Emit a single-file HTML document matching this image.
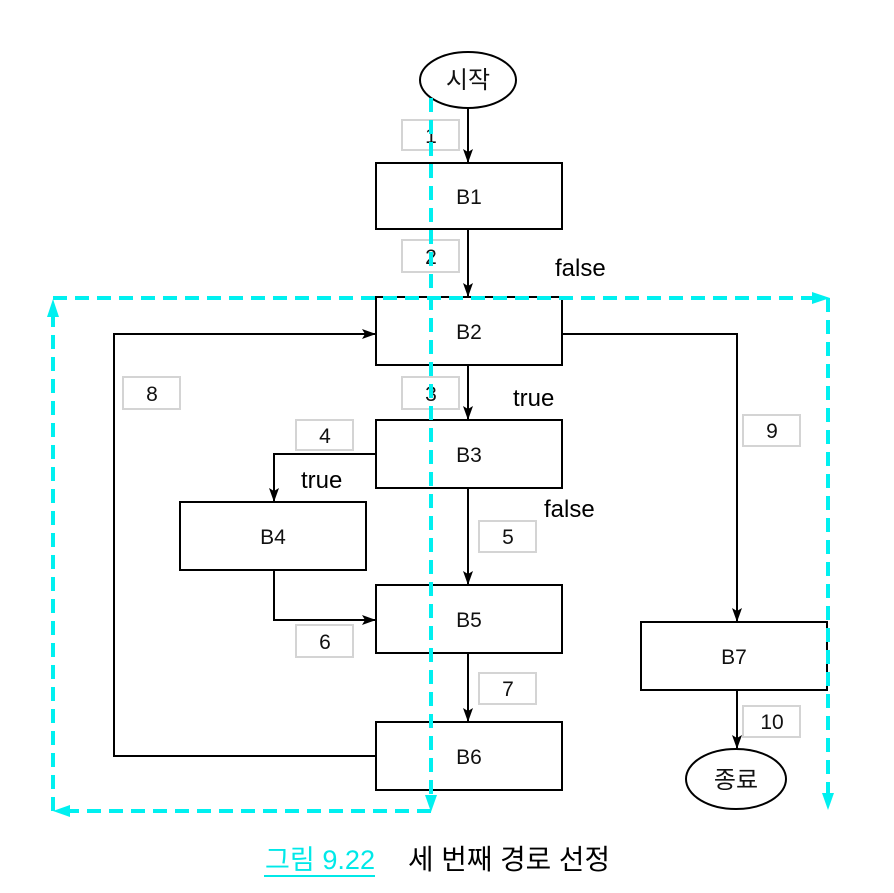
<!DOCTYPE html>
<html><head><meta charset="utf-8"><style>
html,body{margin:0;padding:0;background:#fff;}
svg{display:block;}
text{font-family:"Liberation Sans","Noto Sans CJK KR",sans-serif;}
</style></head><body>
<svg width="894" height="893" viewBox="0 0 894 893" xmlns="http://www.w3.org/2000/svg">
<defs>
<marker id="a" markerWidth="14" markerHeight="12" refX="13" refY="6" orient="auto" markerUnits="userSpaceOnUse" viewBox="0 0 14 12">
<path d="M0,1 L14,6 L0,11 L3,6 Z" fill="#000"/></marker>
</defs>
<g fill="none" stroke="#d4d4d4" stroke-width="2">
<rect x="402" y="120" width="57" height="30"/>
<rect x="402" y="240" width="57" height="32"/>
<rect x="402" y="377" width="57" height="32"/>
<rect x="296" y="420" width="57" height="30"/>
<rect x="479" y="521" width="57" height="31"/>
<rect x="296" y="625" width="57" height="32"/>
<rect x="479" y="673" width="57" height="31"/>
<rect x="123" y="377" width="57" height="32"/>
<rect x="743" y="415" width="57" height="31"/>
<rect x="743" y="706" width="57" height="31"/>
</g>
<g font-size="21" fill="#111" text-anchor="middle">
<text x="431" y="143">1</text><text x="431" y="264">2</text><text x="431" y="401">3</text>
<text x="325" y="443">4</text><text x="508" y="544">5</text><text x="325" y="649">6</text>
<text x="508" y="696">7</text><text x="152" y="401">8</text><text x="772" y="438">9</text>
<text x="772" y="729">10</text>
</g>
<g fill="none" stroke="#000" stroke-width="2">
<ellipse cx="468" cy="80" rx="48" ry="28"/>
<ellipse cx="736" cy="779" rx="50" ry="30"/>
<rect x="376" y="163" width="186" height="66"/>
<rect x="376" y="297" width="186" height="68"/>
<rect x="376" y="420" width="186" height="68"/>
<rect x="180" y="502" width="186" height="68"/>
<rect x="376" y="585" width="186" height="68"/>
<rect x="376" y="722" width="186" height="68"/>
<rect x="641" y="622" width="186" height="68"/>
<path d="M468,108 V162" marker-end="url(#a)"/>
<path d="M468,229 V296" marker-end="url(#a)"/>
<path d="M468,365 V419" marker-end="url(#a)"/>
<path d="M468,488 V584" marker-end="url(#a)"/>
<path d="M468,653 V721" marker-end="url(#a)"/>
<path d="M562,334 H737 V621" marker-end="url(#a)"/>
<path d="M376,454 H274 V501" marker-end="url(#a)"/>
<path d="M274,570 V620 H375" marker-end="url(#a)"/>
<path d="M376,756 H114 V334 H375" marker-end="url(#a)"/>
<path d="M737,690 V748" marker-end="url(#a)"/>
</g>
<g font-size="21" fill="#111" text-anchor="middle">
<text x="468" y="88" font-size="24">시작</text>
<text x="736" y="788" font-size="24">종료</text>
<text x="469" y="204">B1</text><text x="469" y="339">B2</text><text x="469" y="462">B3</text>
<text x="273" y="544">B4</text><text x="469" y="627">B5</text><text x="469" y="764">B6</text>
<text x="734" y="664">B7</text>
</g>
<g font-size="24" fill="#000">
<text x="555" y="276">false</text>
<text x="513" y="406">true</text>
<text x="301" y="488">true</text>
<text x="544" y="517">false</text>
</g>
<g fill="none" stroke="#00f0f0" stroke-width="4" stroke-dasharray="14,8">
<path d="M431,98 V800"/>
<path d="M431,811 H62"/>
<path d="M53,811 V312"/>
<path d="M53,298 H815"/>
<path d="M828,298 V798"/>
</g>
<g fill="#00f0f0">
<path d="M425,795 L437,795 L431,812 Z"/>
<path d="M70,805 L70,817 L53,811 Z"/>
<path d="M47,317 L59,317 L53,299 Z"/>
<path d="M812,292 L812,304 L830,298 Z"/>
<path d="M822,793 L834,793 L828,810 Z"/>
</g>
<text x="265" y="869" font-size="27" fill="#00e8e8" textLength="110" lengthAdjust="spacingAndGlyphs">그림 9.22</text>
<rect x="264" y="875" width="111" height="2" fill="#00e8e8"/>
<text x="408" y="869" font-size="28" fill="#000" textLength="202" lengthAdjust="spacingAndGlyphs">세 번째 경로 선정</text>
</svg>
</body></html>
